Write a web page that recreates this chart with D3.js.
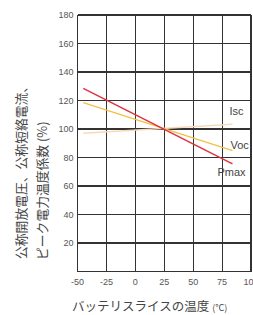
<!DOCTYPE html>
<html><head><meta charset="utf-8">
<script src="https://cdn.jsdelivr.net/npm/d3@7"></script>
<style>body{margin:0;background:#fff}svg{display:block}</style>
</head><body>
<script>
const temps = [-45, 84];
const pmax = [128.5, 75.5];
const voc = [118.5, 84.8];
const isc = [97, 103.3];
const xTicks = [-50, -25, 0, 25, 50, 75, 100];
const yTicks = [20, 40, 60, 80, 100, 120, 140, 160, 180];
const seriesNames = ["Isc", "Voc", "Pmax"];

const W = 253, H = 315;
const svg = d3.select("body").append("svg").attr("width", W).attr("height", H);
const x = d3.scaleLinear().domain([-50, 100]).range([77.5, 251]);
const y = d3.scaleLinear().domain([0, 180]).range([271.5, 15]);

const grid = svg.append("g").attr("stroke", "#333").attr("stroke-width", 1.1).attr("shape-rendering", "crispEdges");
grid.selectAll("line.v").data(xTicks).join("line")
  .attr("x1", d => x(d)).attr("x2", d => x(d)).attr("y1", y(0)).attr("y2", y(180));
grid.selectAll("line.h").data([0].concat(yTicks)).join("line")
  .attr("y1", d => y(d)).attr("y2", d => y(d)).attr("x1", x(-50)).attr("x2", x(100));

const tickFont = "'Liberation Sans', Arial, sans-serif";
svg.append("g").selectAll("text").data(yTicks).join("text")
  .attr("x", x(-50) - 4).attr("y", d => y(d) + 3.3)
  .attr("text-anchor", "end").attr("font-family", tickFont).attr("font-size", 9).attr("fill", "#555")
  .text(d => d);
svg.append("g").selectAll("text").data(xTicks).join("text")
  .attr("x", d => x(d)).attr("y", y(0) + 13)
  .attr("text-anchor", "middle").attr("font-family", tickFont).attr("font-size", 9).attr("fill", "#555")
  .text(d => d);

const line = d3.line().x(d => x(d[0])).y(d => y(d[1]));
const series = [
  {name: "Isc", vals: isc, color: "#f8d9bb"},
  {name: "Voc", vals: voc, color: "#f3c048"},
  {name: "Pmax", vals: pmax, color: "#e0323f"}
];
svg.append("g").selectAll("path").data(series).join("path")
  .attr("d", s => line(temps.map((t, i) => [t, s.vals[i]])))
  .attr("fill", "none").attr("stroke", s => s.color).attr("stroke-width", 1.5);

const labelOff = {Isc: [-3, -9], Voc: [-2, -2], Pmax: [-15, 12]};
svg.append("g").selectAll("text").data(series).join("text")
  .attr("x", s => x(temps[1]) + labelOff[s.name][0])
  .attr("y", s => y(s.vals[1]) + labelOff[s.name][1])
  .attr("font-family", tickFont).attr("font-size", 11).attr("fill", "#444")
  .text(s => s.name);

const jp = "'Noto Sans CJK JP', sans-serif";
const xt = svg.append("text").attr("x", 72).attr("y", 311)
  .attr("font-family", jp).attr("font-size", 12.5).attr("fill", "#444");
xt.append("tspan").text("バッテリスライスの温度");
xt.append("tspan").attr("font-size", 9).attr("dx", 3).text("(°C)");

svg.append("text").attr("transform", "translate(25.5,259) rotate(-90)")
  .attr("font-family", jp).attr("font-size", 12.8).attr("fill", "#444")
  .text("公称開放電圧、公称短絡電流、");
svg.append("text").attr("transform", "translate(46.5,260) rotate(-90)")
  .attr("font-family", jp).attr("font-size", 12.8).attr("fill", "#444")
  .text("ピーク電力温度係数 (%)");
</script>
</body></html>
